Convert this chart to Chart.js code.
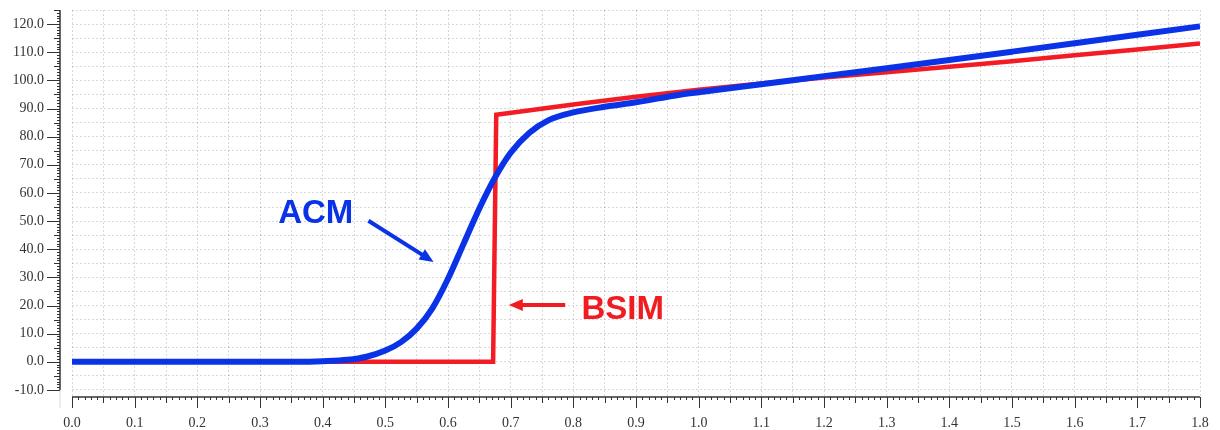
<!DOCTYPE html>
<html lang="en">
<head>
  <meta charset="UTF-8">
  <title>ACM vs BSIM</title>
  <script src="https://cdn.jsdelivr.net/npm/chart.js"></script>
  <style>
    body { margin: 0; background: #fff; }
    #wrap { width: 1220px; height: 430px; }
  </style>
</head>
<body>
  <div id="wrap"><canvas id="curveChart"></canvas></div>
  <script>
    // curve samples
    const acmX = [0, 0.1, 0.2, 0.3, 0.36, 0.4, 0.44, 0.47, 0.5, 0.525, 0.55, 0.575, 0.6, 0.625, 0.65, 0.675, 0.7, 0.73, 0.76, 0.8, 0.85, 0.9, 0.97, 1.0, 1.1, 1.2, 1.3, 1.4, 1.5, 1.6, 1.7, 1.8];
    const acmY = [0, 0, 0, 0, 0, 0.2, 0.7, 1.8, 4.0, 7.0, 11.8, 19.0, 29.5, 42.0, 54.5, 65.5, 74.3, 81.4, 85.8, 88.6, 90.6, 92.2, 94.9, 95.8, 98.6, 101.5, 104.3, 107.2, 110.2, 113.2, 116.2, 119.2];
    const bsimX = [0, 0.672, 0.677, 0.8, 0.9, 1.0, 1.1, 1.2, 1.3, 1.4, 1.5, 1.6, 1.7, 1.8];
    const bsimY = [0, 0, 87.8, 91.4, 94.2, 96.7, 98.9, 101.0, 102.9, 104.8, 106.8, 108.9, 111.0, 113.1];

    const xMin = 0, xMax = 1.8;
    const yMin = -12.5, yMax = 125;

    const toPoints = (xs, ys) => xs.map((x, i) => ({ x: x, y: ys[i] }));

    // ruler-style axes drawn through the scales
    const rulerAxes = {
      id: 'rulerAxes',
      afterDraw(chart) {
        const { ctx, chartArea, scales: { x, y } } = chart;
        ctx.save();
        ctx.strokeStyle = '#333';

        // y axis, sitting a little left of the plot
        const ax = chartArea.left - 12;
        ctx.lineWidth = 1.5;
        ctx.beginPath();
        ctx.moveTo(ax, y.getPixelForValue(yMax));
        ctx.lineTo(ax, y.getPixelForValue(-10));
        ctx.stroke();
        ctx.lineWidth = 1;
        for (let v = -10; v <= 125; v++) {
          const py = Math.round(y.getPixelForValue(v)) + 0.5;
          const len = v % 10 === 0 ? 13 : (v % 5 === 0 ? 6 : 3);
          ctx.beginPath();
          ctx.moveTo(ax, py);
          ctx.lineTo(ax - len, py);
          ctx.stroke();
        }
        // faint tail of the y axis below the ruler
        ctx.strokeStyle = 'rgba(120,140,200,0.35)';
        ctx.beginPath();
        ctx.moveTo(ax, y.getPixelForValue(-10));
        ctx.lineTo(ax, chartArea.bottom + 11);
        ctx.stroke();

        // x axis along the bottom
        ctx.strokeStyle = '#333';
        const by = chartArea.bottom;
        ctx.lineWidth = 1.5;
        ctx.beginPath();
        ctx.moveTo(x.getPixelForValue(xMin), by);
        ctx.lineTo(x.getPixelForValue(xMax), by);
        ctx.stroke();
        ctx.lineWidth = 1;
        for (let k = 0; k <= 180; k++) {
          const px = Math.round(x.getPixelForValue(k / 100)) + 0.5;
          const len = k % 10 === 0 ? 11 : (k % 5 === 0 ? 6 : 3);
          ctx.beginPath();
          ctx.moveTo(px, by);
          ctx.lineTo(px, by + len);
          ctx.stroke();
        }
        ctx.restore();
      }
    };

    // "ACM" and "BSIM" callouts with arrows
    const callouts = {
      id: 'callouts',
      afterDatasetsDraw(chart) {
        const { ctx, scales: { x, y } } = chart;
        const arrow = (x1, y1, x2, y2, color) => {
          const p1 = [x.getPixelForValue(x1), y.getPixelForValue(y1)];
          const p2 = [x.getPixelForValue(x2), y.getPixelForValue(y2)];
          const ang = Math.atan2(p2[1] - p1[1], p2[0] - p1[0]);
          ctx.strokeStyle = color;
          ctx.fillStyle = color;
          ctx.lineWidth = 4;
          ctx.beginPath();
          ctx.moveTo(p1[0], p1[1]);
          ctx.lineTo(p2[0] - 8 * Math.cos(ang), p2[1] - 8 * Math.sin(ang));
          ctx.stroke();
          ctx.beginPath();
          ctx.moveTo(p2[0], p2[1]);
          ctx.lineTo(p2[0] - 14 * Math.cos(ang) + 6 * Math.sin(ang), p2[1] - 14 * Math.sin(ang) - 6 * Math.cos(ang));
          ctx.lineTo(p2[0] - 14 * Math.cos(ang) - 6 * Math.sin(ang), p2[1] - 14 * Math.sin(ang) + 6 * Math.cos(ang));
          ctx.closePath();
          ctx.fill();
        };
        ctx.save();
        ctx.font = 'bold 33px "Liberation Sans", Arial, sans-serif';
        ctx.textBaseline = 'middle';
        ctx.textAlign = 'left';
        ctx.fillStyle = '#0a32e6';
        ctx.fillText('ACM', x.getPixelForValue(0.329), y.getPixelForValue(52.5));
        arrow(0.473, 50.1, 0.577, 35.5, '#0a32e6');
        ctx.fillStyle = '#f01c22';
        ctx.fillText('BSIM', x.getPixelForValue(0.813), y.getPixelForValue(18.6));
        arrow(0.787, 20.2, 0.697, 20.2, '#f01c22');
        ctx.restore();
      }
    };

    const ctx = document.getElementById('curveChart').getContext('2d');
    new Chart(ctx, {
      type: 'line',
      data: {
        datasets: [
          {
            label: 'ACM',
            data: toPoints(acmX, acmY),
            borderColor: '#0a32e6',
            borderWidth: 6,
            pointRadius: 0,
            cubicInterpolationMode: 'monotone',
            fill: false
          },
          {
            label: 'BSIM',
            data: toPoints(bsimX, bsimY),
            borderColor: '#f41c24',
            borderWidth: 4.5,
            pointRadius: 0,
            tension: 0,
            fill: false
          }
        ]
      },
      options: {
        responsive: true,
        maintainAspectRatio: false,
        animation: false,
        layout: { padding: { top: 10, right: 20, left: 0, bottom: 0 } },
        plugins: {
          legend: { display: false },
          tooltip: { enabled: false }
        },
        scales: {
          x: {
            type: 'linear',
            min: xMin,
            max: xMax,
            afterFit: (scale) => {
              scale.height = 33;
              scale.paddingLeft = 0;
              scale.paddingRight = 0;
            },
            border: { display: false, dash: [2, 2] },
            grid: { color: 'rgba(0,0,0,0.15)', drawTicks: false },
            ticks: {
              stepSize: 0.05,
              autoSkip: false,
              maxRotation: 0,
              padding: 18,
              color: '#333',
              font: { family: '"Liberation Serif", "DejaVu Serif", serif', size: 14 },
              callback: (v) => Math.round(v * 100) % 10 === 0 ? Number(v).toFixed(1) : ''
            }
          },
          y: {
            type: 'linear',
            min: yMin,
            max: yMax,
            afterBuildTicks: (scale) => {
              const t = [];
              for (let v = -10; v <= yMax; v += 5) t.push({ value: v });
              scale.ticks = t;
            },
            afterFit: (scale) => {
              scale.width = 72;
              scale.paddingTop = 0;
              scale.paddingBottom = 0;
            },
            border: { display: false, dash: [2, 2] },
            grid: { color: 'rgba(0,0,0,0.15)', drawTicks: false },
            ticks: {
              autoSkip: false,
              padding: 28,
              color: '#333',
              font: { family: '"Liberation Serif", "DejaVu Serif", serif', size: 14 },
              callback: (v) => v % 10 === 0 ? Number(v).toFixed(1) : ''
            }
          }
        }
      },
      plugins: [rulerAxes, callouts]
    });
  </script>
</body>
</html>
